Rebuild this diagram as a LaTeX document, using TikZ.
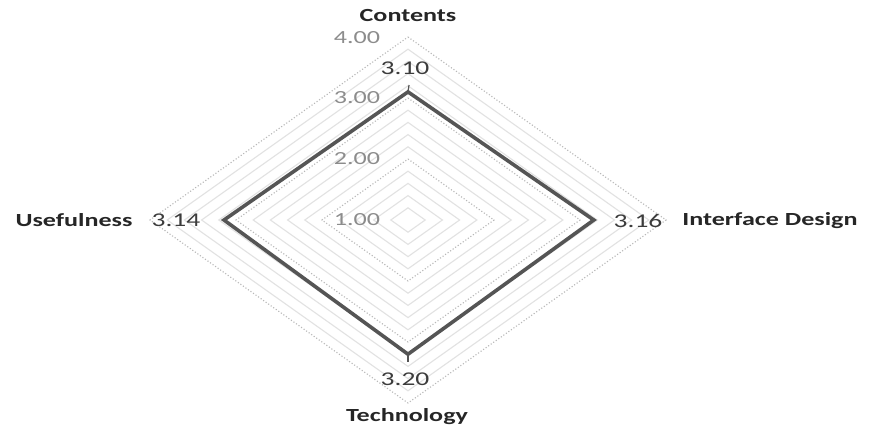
\documentclass[tikz,border=0pt]{standalone}
\usepackage{graphicx}
\usepackage{fontspec}
\setmainfont{Carlito}
\newcommand\widetext[1]{\scalebox{1.41}[1]{#1}}
\definecolor{gridminor}{HTML}{E2E2E2}
\definecolor{gridmajor}{HTML}{B8B8B8}
\definecolor{serieslc}{HTML}{555555}
\definecolor{scalegray}{HTML}{8C8C8C}
\definecolor{valgray}{HTML}{3C3C3C}
\definecolor{catgray}{HTML}{262626}
\tikzset{
  minorgrid/.style={draw=gridminor, line width=1.1pt},
  majorgrid/.style={draw=gridmajor, line width=1.1pt, dotted},
  series/.style={draw=serieslc, line width=3.6pt, line join=miter},
  leader/.style={draw=serieslc, line width=1.2pt},
  scalelbl/.style={text=scalegray, font=\fontsize{18.5}{18.5}\selectfont, inner sep=0pt},
  vallbl/.style={text=valgray, font=\fontsize{19.5}{19.5}\selectfont, inner sep=0pt},
  catlbl/.style={text=catgray, font=\fontsize{18.5}{18.5}\selectfont\bfseries, inner sep=0pt}
}
\begin{document}
\begin{tikzpicture}[x=1pt,y=-1pt]
\useasboundingbox (0,0) rectangle (869,436);
\fill[white] (0,0) rectangle (869,436);
\def\cx{408}\def\cy{220}\def\sx{86}\def\sy{61}
% minor rings every 0.2
\foreach \v in {0.2,0.4,0.6,0.8,1.2,1.4,1.6,1.8,2.2,2.4,2.6,2.8}{
  \draw[minorgrid] (\cx,\cy-\v*\sy) -- (\cx+\v*\sx,\cy) -- (\cx,\cy+\v*\sy) -- (\cx-\v*\sx,\cy) -- cycle;
}
% major rings at 2.00, 3.00, 4.00
\foreach \v in {1,2,3}{
  \draw[majorgrid] (\cx,\cy-\v*\sy) -- (\cx+\v*\sx,\cy) -- (\cx,\cy+\v*\sy) -- (\cx-\v*\sx,\cy) -- cycle;
}
% scale labels
\node[scalelbl] (s1) at (357,220) {\widetext{1.00}};
\node[scalelbl] (s2) at (357,159) {\widetext{2.00}};
\node[scalelbl] (s3) at (357,98) {\widetext{3.00}};
\node[scalelbl] (s4) at (357,38) {\widetext{4.00}};
% data points
\coordinate (pC) at (\cx,{\cy-2.10*\sy});
\coordinate (pI) at ({\cx+2.16*\sx},\cy);
\coordinate (pT) at (\cx,{\cy+2.20*\sy});
\coordinate (pU) at ({\cx-2.14*\sx},\cy);
\draw[series] (pC) -- (pI) -- (pT) -- (pU) -- cycle;
% value labels with short leaders
\coordinate (lC) at (409,85);
\coordinate (lT) at (408,362);
\draw[leader] (pC) -- (lC);
\draw[leader] (pT) -- (lT);
\node[vallbl] (vC) at (405,68) {\widetext{3.10}};
\node[vallbl] (vI) at (638,221) {\widetext{3.16}};
\node[vallbl] (vT) at (405,379) {\widetext{3.20}};
\node[vallbl] (vU) at (176,220) {\widetext{3.14}};
% category labels
\node[catlbl] (cC) at (408,16) {\widetext{Contents}};
\node[catlbl] (cI) at (770,221) {\widetext{Interface Design}};
\node[catlbl] (cT) at (407,417) {\widetext{Technology}};
\node[catlbl] (cU) at (74,220) {\widetext{Usefulness}};
\end{tikzpicture}
\end{document}
